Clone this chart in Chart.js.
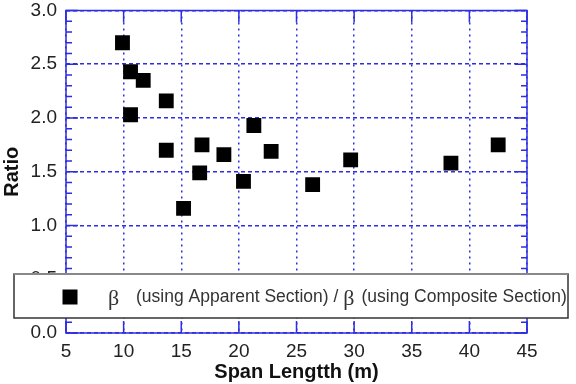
<!DOCTYPE html>
<html>
<head>
<meta charset="utf-8">
<script src="https://cdn.jsdelivr.net/npm/chart.js@4/dist/chart.umd.min.js"></script>
<style>
  html, body { margin: 0; padding: 0; background: #fff; }
  #wrap { width: 576px; height: 384px; }
</style>
</head>
<body>
<div id="wrap"><canvas id="ratioChart" width="576" height="384"></canvas></div>
<script>
// data
const spanLength = [9.9, 10.6, 11.7, 13.7, 10.6, 13.7, 16.8, 16.6, 18.7, 21.3, 20.4, 22.8, 15.2, 26.4, 29.7, 38.4, 42.5];
const ratio = [2.70, 2.43, 2.35, 2.16, 2.03, 1.70, 1.75, 1.49, 1.66, 1.93, 1.41, 1.69, 1.16, 1.38, 1.61, 1.58, 1.75];
const xTicks = [5, 10, 15, 20, 25, 30, 35, 40, 45];
const yTicks = [0.0, 0.5, 1.0, 1.5, 2.0, 2.5, 3.0];
const yMinorStep = 0.1;
const xTitle = 'Span Lengtth (m)';
const yTitle = 'Ratio';
const legendBeta = 'β';
const legendPart1 = '(using Apparent Section) /';
const legendPart2 = '(using Composite Section)';

const blue = 'rgb(45, 45, 225)';
const font = "'Liberation Sans', Arial, sans-serif";

// inward ticks on all four sides + solid frame
const frameTicks = {
    id: 'frameTicks',
    afterDatasetsDraw(chart) {
        const ctx = chart.ctx;
        const area = chart.chartArea;
        const xs = chart.scales.x;
        const ys = chart.scales.y;
        ctx.save();
        ctx.strokeStyle = blue;
        ctx.lineWidth = 1.5;
        ctx.setLineDash([]);
        ctx.strokeRect(area.left, area.top, area.right - area.left, area.bottom - area.top);
        ctx.beginPath();
        xTicks.forEach(v => {
            const px = xs.getPixelForValue(v);
            ctx.moveTo(px, area.bottom); ctx.lineTo(px, area.bottom - 12);
            ctx.moveTo(px, area.top); ctx.lineTo(px, area.top + 12);
        });
        for (let i = 0; i <= 30; i++) {
            const v = i * yMinorStep;
            const py = ys.getPixelForValue(v);
            const len = (i % 5 === 0) ? 12 : 6;
            ctx.moveTo(area.left, py); ctx.lineTo(area.left + len, py);
            ctx.moveTo(area.right, py); ctx.lineTo(area.right - len, py);
        }
        ctx.stroke();
        ctx.restore();
    }
};

// boxed legend drawn over the plot
const boxLegend = {
    id: 'boxLegend',
    afterDraw(chart) {
        const ctx = chart.ctx;
        ctx.save();
        ctx.fillStyle = '#fff';
        ctx.fillRect(14, 274, 554, 44);
        ctx.lineWidth = 1.5;
        ctx.strokeStyle = '#333';
        ctx.strokeRect(14, 274, 554, 44);
        ctx.strokeStyle = '#888';
        ctx.lineWidth = 2;
        ctx.beginPath(); ctx.moveTo(14, 274); ctx.lineTo(568, 274); ctx.stroke();
        ctx.fillStyle = '#000';
        ctx.fillRect(62.5, 289.5, 15, 15);
        ctx.fillStyle = '#333';
        ctx.textBaseline = 'middle';
        ctx.font = "22px 'Liberation Serif', serif";
        ctx.fillText(legendBeta, 108, 299);
        ctx.font = '17.5px ' + font;
        ctx.fillText(legendPart1, 136, 297);
        const w1 = ctx.measureText(legendPart1).width;
        ctx.font = "22px 'Liberation Serif', serif";
        ctx.fillText(legendBeta, 136 + w1 + 5, 299);
        const wb = ctx.measureText(legendBeta).width;
        ctx.font = '17.5px ' + font;
        ctx.fillText(legendPart2, 136 + w1 + 5 + wb + 7, 297);
        ctx.restore();
    }
};

const chart = new Chart(document.getElementById('ratioChart'), {
    type: 'scatter',
    data: {
        datasets: [{
            label: 'ratio',
            data: spanLength.map((x, i) => ({ x: x, y: ratio[i] })),
            pointStyle: 'rect',
            pointRadius: 10.5,
            pointHoverRadius: 10.5,
            backgroundColor: '#000',
            borderColor: '#000',
            borderWidth: 0
        }]
    },
    options: {
        responsive: false,
        animation: false,
        layout: { padding: { top: 0, right: 49, left: 0, bottom: 0 } },
        plugins: {
            legend: { display: false },
            tooltip: { enabled: false }
        },
        scales: {
            x: {
                type: 'linear',
                min: 5,
                max: 45,
                afterBuildTicks: s => { s.ticks = xTicks.map(v => ({ value: v })); },
                afterFit: s => { s.height = 51; },
                grid: { color: blue, lineWidth: 1.5, drawTicks: false },
                border: { display: false, dash: [2, 4] },
                ticks: {
                    color: '#222',
                    padding: 7,
                    font: { family: font, size: 19 }
                },
                title: {
                    display: true,
                    text: xTitle,
                    color: '#111',
                    padding: 0,
                    font: { family: font, size: 20, weight: 'bold' }
                }
            },
            y: {
                type: 'linear',
                min: 0,
                max: 3,
                afterBuildTicks: s => { s.ticks = yTicks.map(v => ({ value: v })); },
                afterFit: s => { s.width = 66; },
                grid: { color: blue, lineWidth: 1.5, drawTicks: false },
                border: { display: false, dash: [4, 3] },
                ticks: {
                    color: '#222',
                    padding: 9,
                    font: { family: font, size: 19, lineHeight: 0 },
                    callback: v => v.toFixed(1)
                },
                title: {
                    display: true,
                    text: yTitle,
                    color: '#111',
                    padding: 0,
                    font: { family: font, size: 20, weight: 'bold' }
                }
            }
        }
    },
    plugins: [frameTicks, boxLegend]
});
</script>
</body>
</html>
